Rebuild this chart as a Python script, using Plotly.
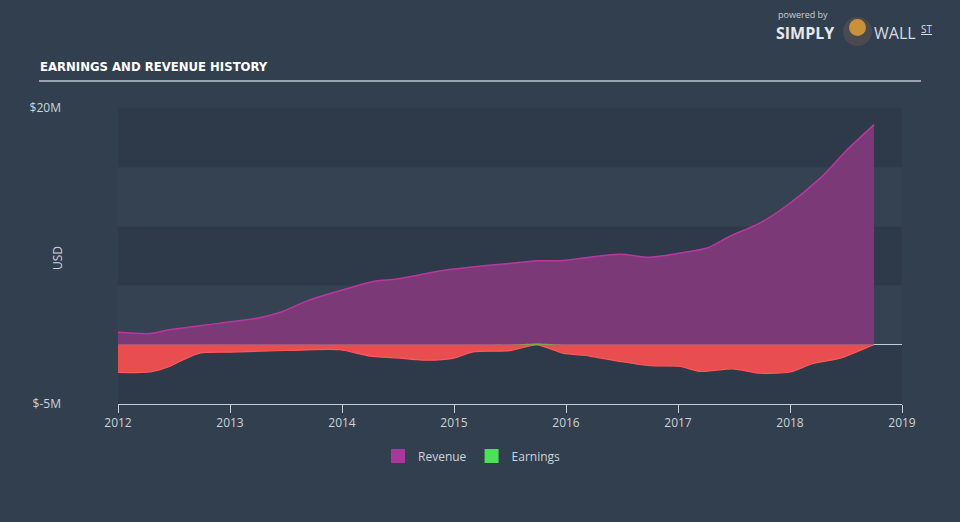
import numpy as np
import plotly.graph_objects as go

# ---- data (USD millions) ----
rev_x = [2012.0, 2012.29, 2012.46, 2012.73, 2013.0, 2013.2, 2013.45, 2013.7, 2013.98,
         2014.28, 2014.49, 2014.9, 2015.14, 2015.53, 2015.74, 2015.97, 2016.21, 2016.48,
         2016.75, 2017.02, 2017.26, 2017.46, 2017.73, 2017.96, 2018.27, 2018.51, 2018.75]
revenue = [1.05, 0.95, 1.27, 1.6, 1.94, 2.17, 2.75, 3.75, 4.56,
           5.35, 5.55, 6.28, 6.56, 6.9, 7.1, 7.12, 7.4, 7.65,
           7.4, 7.75, 8.17, 9.15, 10.28, 11.68, 14.08, 16.47, 18.6]

earn_x = [2012.0, 2012.29, 2012.46, 2012.58, 2012.73, 2013.0, 2013.5, 2013.98, 2014.25,
          2014.49, 2014.72, 2014.99, 2015.17, 2015.5, 2015.74, 2015.97, 2016.21, 2016.48,
          2016.75, 2017.02, 2017.2, 2017.49, 2017.73, 2018.0, 2018.2, 2018.45, 2018.71, 2018.75]
earnings = [-2.34, -2.28, -1.83, -1.27, -0.7, -0.62, -0.48, -0.42, -0.95,
            -1.1, -1.3, -1.15, -0.6, -0.5, 0.1, -0.7, -0.95, -1.4,
            -1.77, -1.83, -2.25, -2.03, -2.4, -2.3, -1.6, -1.13, -0.14, 0.05]

year_ticks = [2012, 2013, 2014, 2015, 2016, 2017, 2018, 2019]
y_tickvals = [-5, 20]
y_ticktext = ["$-5M", "$20M"]
bands = [(15, 20), (5, 10), (-5, 0)]

PAPER = "#323f4e"
PLOT = "#344251"
BAND = "#2e3a49"
TXT = "#cdd3d9"
FONT = "Open Sans"

fig = go.Figure()

fig.add_trace(go.Scatter(
    x=rev_x, y=revenue, mode="lines", fill="tozeroy",
    line=dict(color="#b8389f", width=1.5, shape="spline", smoothing=0.7),
    fillcolor="#7b3a77", showlegend=False, hoverinfo="skip"))

earn_arr = np.array(earnings)
fig.add_trace(go.Scatter(
    x=earn_x, y=np.minimum(earn_arr, 0), mode="lines", fill="tozeroy",
    line=dict(color="#ff5858", width=1.2, shape="spline", smoothing=0.7),
    fillcolor="#e84e50", showlegend=False, hoverinfo="skip"))
fig.add_trace(go.Scatter(
    x=earn_x, y=np.maximum(earn_arr, 0), mode="lines", fill="tozeroy",
    line=dict(color="rgba(0,0,0,0)", width=0, shape="spline", smoothing=0.7),
    fillcolor="#86b04a", showlegend=False, hoverinfo="skip"))

# legend entries
fig.add_trace(go.Scatter(x=[None], y=[None], mode="markers", name="Revenue",
                         marker=dict(symbol="square", size=14, color="#a8399a")))
fig.add_trace(go.Scatter(x=[None], y=[None], mode="markers", name="Earnings",
                         marker=dict(symbol="square", size=14, color="#4fe05a")))

shapes = []
for y0, y1 in bands:
    shapes.append(dict(type="rect", xref="x domain", x0=0, x1=1, yref="y", y0=y0, y1=y1,
                       fillcolor=BAND, line=dict(width=0), layer="below"))
# title underline
W, H, L, T = 784, 296, 118, 108
def px(xp):
    return (xp - L) / W
def py(yp):
    return (T + H - yp) / H
shapes.append(dict(type="line", xref="paper", yref="paper", x0=px(39), x1=px(921),
                   y0=py(81), y1=py(81), line=dict(color="#9aa3ad", width=2)))
# logo badge
shapes.append(dict(type="circle", xref="paper", yref="paper",
                   x0=px(843), x1=px(872), y0=py(46), y1=py(17),
                   fillcolor="#4a4a4f", line=dict(width=0)))
shapes.append(dict(type="circle", xref="paper", yref="paper",
                   x0=px(849), x1=px(866), y0=py(36), y1=py(19),
                   fillcolor="#c8913a", line=dict(width=0)))

annotations = [
    dict(text="<b>EARNINGS AND REVENUE HISTORY</b>", xref="paper", yref="paper",
         x=px(38), y=py(67), xanchor="left", yanchor="middle", showarrow=False,
         font=dict(family="DejaVu Sans Condensed", size=13, color="#ffffff")),
    dict(text="USD", xref="paper", yref="paper", x=px(57), y=py(258), textangle=-90,
         xanchor="center", yanchor="middle", showarrow=False,
         font=dict(family=FONT, size=12, color=TXT)),
    dict(text="powered by", xref="paper", yref="paper", x=px(776), y=py(15),
         xanchor="left", yanchor="middle", showarrow=False,
         font=dict(family=FONT, size=9, color="#c9ced4")),
    dict(text="<b>SIMPLY</b>", xref="paper", yref="paper", x=px(774), y=py(33),
         xanchor="left", yanchor="middle", showarrow=False,
         font=dict(family=FONT, size=16, color="#e6e9ec")),
    dict(text="WALL", xref="paper", yref="paper", x=px(872), y=py(33),
         xanchor="left", yanchor="middle", showarrow=False,
         font=dict(family=FONT, size=16, color="#d8dce0")),
    dict(text="<u>ST</u>", xref="paper", yref="paper", x=px(919), y=py(29),
         xanchor="left", yanchor="middle", showarrow=False,
         font=dict(family=FONT, size=10, color="#d8dce0")),
]

fig.update_layout(
    width=960, height=522,
    margin=dict(l=L, r=960 - L - W, t=T, b=522 - T - H),
    paper_bgcolor=PAPER, plot_bgcolor=PLOT,
    font=dict(family=FONT, size=12, color=TXT),
    shapes=shapes, annotations=annotations,
    legend=dict(orientation="h", x=px(472), xanchor="center", y=py(456), yanchor="middle",
                font=dict(family=FONT, size=12, color=TXT), bgcolor="rgba(0,0,0,0)",
                itemclick=False),
    xaxis=dict(range=[2012, 2019], tickvals=year_ticks, ticktext=[str(v) for v in year_ticks],
               showgrid=False, zeroline=False, showline=True, linecolor="#c3cbd3", linewidth=1,
               ticks="outside", ticklen=8, tickcolor="#c3cbd3",
               tickfont=dict(family=FONT, size=12, color=TXT)),
    yaxis=dict(range=[-5, 20], tickvals=y_tickvals, ticktext=y_ticktext, showgrid=False,
               zeroline=True, zerolinecolor="#c3cbd3", zerolinewidth=1, showline=False,
               ticks="", ticklabelstandoff=56,
               tickfont=dict(family=FONT, size=12, color=TXT)),
)

fig.write_html("out.html", config={"displayModeBar": False},
               post_script="document.body.style.margin='0';document.body.style.background='#323f4e';")
